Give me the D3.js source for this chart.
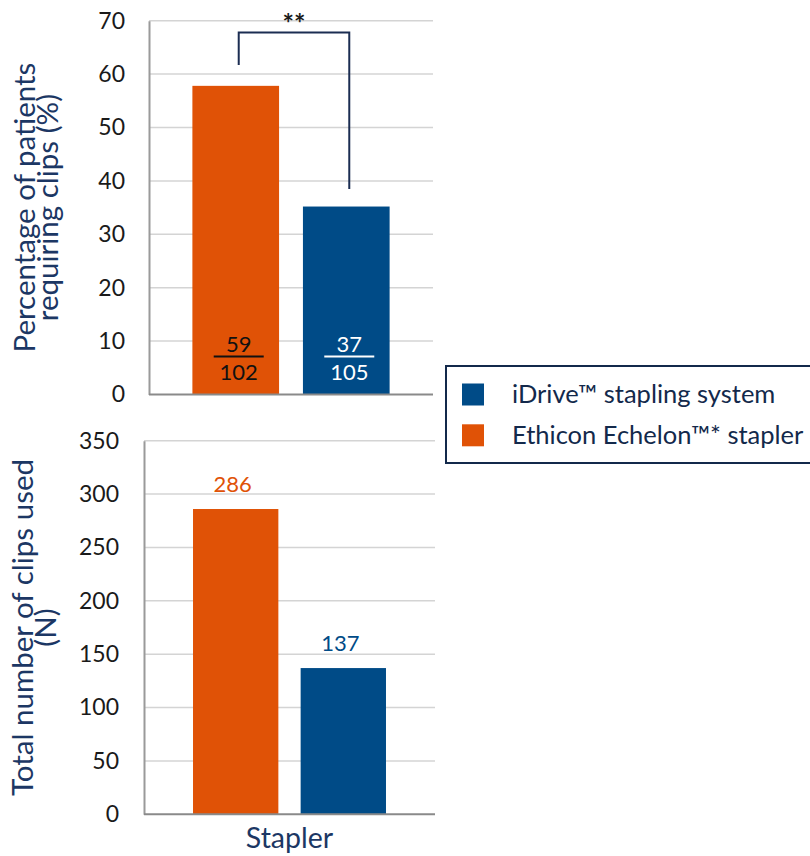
<!DOCTYPE html>
<html>
<head>
<meta charset="utf-8">
<script src="https://cdn.jsdelivr.net/npm/d3@7"></script>
<style>
  html, body { margin: 0; padding: 0; background: #fff; }
  svg { display: block; font-family: Lato, "Open Sans", sans-serif; }
</style>
</head>
<body>
<svg id="chart" width="810" height="856"></svg>
<script>
// ---- data ----
const groupLabel = ["Stapler"];
const series = ["Ethicon Echelon™* stapler", "iDrive™ stapling system"];
const seriesColors = ["#E05206", "#004B87"];
const legendOrder = ["iDrive™ stapling system", "Ethicon Echelon™* stapler"];
const pctPatients = [57.8, 35.2];
const numerators = [59, 37];
const denominators = [102, 105];
const clipsUsed = [286, 137];
const pctTicks = [0, 10, 20, 30, 40, 50, 60, 70];
const clipTicks = [0, 50, 100, 150, 200, 250, 300, 350];
const bracketLevels = [61.7, 67.8, 38.5]; // left leg end, top, right leg end
const significance = "**";
const topTitle = ["Percentage of patients", "requiring clips (%)"];
const bottomTitle = ["Total number of clips used", "(N)"];

const svg = d3.select("#chart");
const navy = "#1c3764";
const gridCol = "#d4d4d4";

function drawPanel(opts) {
  const { x0, x1, yTop, yBot, domainMax, ticks, values, tickPad } = opts;
  const y = d3.scaleLinear().domain([0, domainMax]).range([yBot, yTop]);
  const xg = d3.scaleBand().domain(groupLabel).range([x0, x1]).paddingOuter(opts.outer).paddingInner(0);
  const xs = d3.scaleBand().domain(series).range([0, xg.bandwidth()]).paddingInner(opts.inner).paddingOuter(0);
  const g = svg.append("g");
  g.append("g").selectAll("line").data(ticks.filter(t => t > 0)).join("line")
    .attr("x1", x0).attr("x2", x1)
    .attr("y1", d => y(d)).attr("y2", d => y(d))
    .attr("stroke", gridCol).attr("stroke-width", 1.5);
  g.append("g").selectAll("rect").data(series).join("rect")
    .attr("x", d => xg("Stapler") + xs(d))
    .attr("width", xs.bandwidth())
    .attr("y", (d, i) => y(values[i]))
    .attr("height", (d, i) => y(0) - y(values[i]))
    .attr("fill", (d, i) => seriesColors[i]);
  const ax = g.append("g").attr("transform", `translate(${x0},0)`)
    .call(d3.axisLeft(y).tickValues(ticks).tickSize(0).tickPadding(tickPad));
  ax.select(".domain").attr("stroke", "#9a9a9a").attr("stroke-width", 2);
  ax.selectAll("text").attr("font-size", 23).attr("fill", "#1a1a1a")
    .attr("font-family", "Lato, 'Open Sans', sans-serif");
  g.append("line").attr("x1", x0).attr("x2", x1).attr("y1", y(0)).attr("y2", y(0))
    .attr("stroke", "#8a8a8a").attr("stroke-width", 2);
  const cy = (yTop + yBot) / 2;
  const t = g.append("text")
    .attr("transform", `translate(${opts.titleX},${cy}) rotate(-90)`)
    .attr("text-anchor", "middle").attr("fill", navy).attr("font-size", 29.5);
  opts.title.forEach((line, i) => {
    t.append("tspan").attr("x", 0).attr("y", i * 23).text(line);
  });
  return { y, xg, xs, g };
}

// ---- top panel ----
const topP = drawPanel({
  x0: 149, x1: 433, yTop: 20.7, yBot: 394.5, domainMax: 70, ticks: pctTicks,
  values: pctPatients, outer: 0.22, inner: 0.216, tickPad: 24, title: topTitle, titleX: 35
});
const barCenter = (p, d) => p.xg("Stapler") + p.xs(d) + p.xs.bandwidth() / 2;

series.forEach((s, i) => {
  const cx = barCenter(topP, s) + 3;
  const col = i === 0 ? "#111" : "#fff";
  topP.g.append("text").attr("x", cx).attr("y", 352).attr("text-anchor", "middle")
    .attr("font-size", 22).attr("fill", col).text(numerators[i]);
  topP.g.append("line").attr("x1", cx - 25).attr("x2", cx + 25).attr("y1", 356.5).attr("y2", 356.5)
    .attr("stroke", col).attr("stroke-width", 2);
  topP.g.append("text").attr("x", cx).attr("y", 380).attr("text-anchor", "middle")
    .attr("font-size", 22).attr("fill", col).text(denominators[i]);
});

const bl = barCenter(topP, series[0]) + 3, br = barCenter(topP, series[1]) + 3;
topP.g.append("path")
  .attr("d", `M${bl},${topP.y(bracketLevels[0])}V${topP.y(bracketLevels[1])}H${br}V${topP.y(bracketLevels[2])}`)
  .attr("fill", "none").attr("stroke", "#1b2d52").attr("stroke-width", 2);
topP.g.append("text").attr("x", (bl + br) / 2).attr("y", 33).attr("text-anchor", "middle")
  .attr("font-size", 27).attr("font-weight", "bold").attr("fill", "#1a1a1a").text(significance);

// ---- bottom panel ----
const botP = drawPanel({
  x0: 144, x1: 435, yTop: 440.7, yBot: 814.3, domainMax: 350, ticks: clipTicks,
  values: clipsUsed, outer: 0.254, inner: 0.207, tickPad: 25, title: bottomTitle, titleX: 33
});
series.forEach((s, i) => {
  botP.g.append("text").attr("x", barCenter(botP, s) - 3).attr("y", botP.y(clipsUsed[i]) - 17)
    .attr("text-anchor", "middle").attr("font-size", 22).attr("fill", seriesColors[i])
    .text(clipsUsed[i]);
});
svg.append("text").attr("x", (botP.xg("Stapler") + botP.xg.bandwidth() / 2)).attr("y", 848)
  .attr("text-anchor", "middle").attr("font-size", 28.5).attr("fill", navy).text(groupLabel[0]);

// ---- legend ----
const leg = svg.append("g");
leg.append("rect").attr("x", 446).attr("y", 366).attr("width", 370).attr("height", 97)
  .attr("fill", "none").attr("stroke", "#13294b").attr("stroke-width", 2);
legendOrder.forEach((name, i) => {
  const ci = series.indexOf(name);
  leg.append("rect").attr("x", 462).attr("y", 383.5 + i * 40.8).attr("width", 22).attr("height", 22)
    .attr("fill", seriesColors[ci]);
  leg.append("text").attr("x", 512).attr("y", 403 + i * 41).attr("font-size", 25.5)
    .attr("fill", "#13294b").text(name);
});
</script>
</body>
</html>
